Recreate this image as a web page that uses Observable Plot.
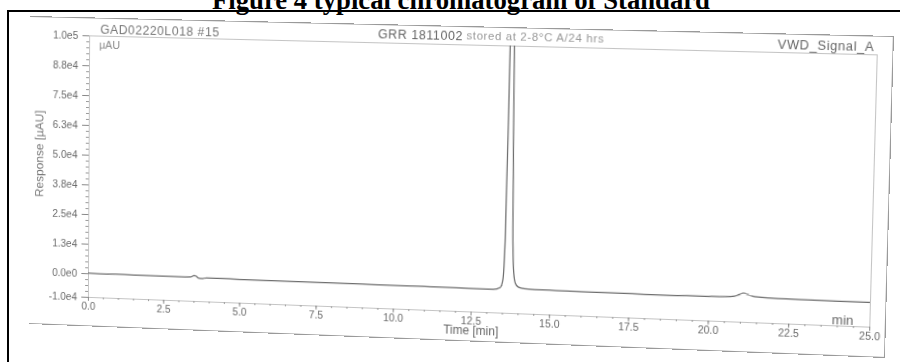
<!DOCTYPE html>
<html><head><meta charset="utf-8">
<script src="https://cdn.jsdelivr.net/npm/d3@7"></script>
<script src="https://cdn.jsdelivr.net/npm/@observablehq/plot@0.6"></script>
<style>
html,body{margin:0;padding:0;background:#fff;}
body{position:relative;width:900px;height:362px;overflow:hidden;font-family:"Liberation Sans",Arial,sans-serif;}
#title{position:absolute;left:0;top:-13px;width:922px;text-align:center;font:bold 26.7px/1 "Liberation Serif","Times New Roman",serif;color:#000;white-space:nowrap;}
#page{position:absolute;left:7px;top:9.5px;width:900px;height:360px;border-top:2px solid #000;border-left:2px solid #000;}
#chart{position:absolute;left:0;top:0;width:865px;height:310px;transform-origin:0 0;border-top:1px solid #9a9a9a;border-right:1px solid #9a9a9a;border-bottom:1px solid #9a9a9a;}
#chart svg{display:block;}
#chart .wide text{letter-spacing:0.6px;}
</style></head>
<body>
<div id="title">Figure 4 typical chromatogram of Standard</div>
<div id="page"></div>
<div id="chart"></div>
<script>
// ---- data ----
const times = [0.0, 0.6, 1.2, 1.8, 2.4, 3.0, 3.4, 3.5, 3.57, 3.65, 3.75, 3.9, 4.3, 5.0, 6.0, 7.0, 8.0, 9.0, 10.0, 11.0, 12.0, 12.8, 13.2, 13.42, 13.5, 13.55, 13.59, 13.63, 13.67, 13.71, 13.75, 13.79, 13.84, 13.9, 14.0, 14.18, 14.55, 15.2, 16.0, 17.0, 18.0, 19.0, 20.0, 20.5, 20.8, 20.95, 21.08, 21.2, 21.35, 21.55, 21.9, 22.4, 23.1, 24.0, 25.0];
const response = [300, 200, 250, 150, 200, 150, 300, 900, 600, -200, -300, 100, 50, 0, -50, 0, -100, -100, -150, -100, -200, -250, -300, 600, 4000, 20000, 70000, 140000, 175000, 150000, 80000, 25000, 7000, 2500, 1000, 500, 300, 200, 100, 50, 0, 0, 100, 250, 600, 1300, 1900, 1500, 900, 550, 350, 250, 150, 100, 100];
const yTicks = [100000, 87500, 75000, 62500, 50000, 37500, 25000, 12500, 0, -10000];
const yTickLabels = ["1.0e5", "8.8e4", "7.5e4", "6.3e4", "5.0e4", "3.8e4", "2.5e4", "1.3e4", "0.0e0", "-1.0e4"];
const xTicks = [0, 2.5, 5, 7.5, 10, 12.5, 15, 17.5, 20, 22.5, 25];
const xTickLabels = ["0.0", "2.5", "5.0", "7.5", "10.0", "12.5", "15.0", "17.5", "20.0", "22.5", "25.0"];
const headerLeft = "GAD02220L018 #15";
const headerCenterA = "GRR 1811002";
const headerCenterB = "stored at 2-8°C A/24 hrs";
const headerRight = "VWD_Signal_A";
const yUnit = "µAU";
const yTitle = "Response [µAU]";
const xTitle = "Time [min]";
const xUnit = "min";

const data = times.map((t, i) => ({t, r: response[i]}));
const yLab = new Map(yTicks.map((d, i) => [d, yTickLabels[i]]));
const xLab = new Map(xTicks.map((d, i) => [d, xTickLabels[i]]));
const yMinor = d3.range(-10000, 100001, 2500);
const xMinor = d3.range(0, 25.001, 0.5);

const plot = Plot.plot({
  width: 865, height: 310,
  marginLeft: 62, marginRight: 15, marginTop: 17, marginBottom: 29,
  x: {domain: [0, 25]},
  y: {domain: [-10000, 100000]},
  style: {fontFamily: "'Liberation Sans', Arial, sans-serif", fontSize: "10.5px", color: "#6a6a6a", background: "transparent", overflow: "visible"},
  marks: [
    Plot.frame({stroke: "#c4c4c4"}),
    Plot.axisY(yMinor, {tickSize: 3, tickFormat: () => "", label: null, stroke: "#999"}),
    Plot.axisY(yTicks, {tickSize: 7, tickPadding: 5, tickFormat: d => yLab.get(d), label: null, stroke: "#888", line: true}),
    Plot.axisX(xMinor, {tickSize: 2, tickFormat: () => "", label: null, stroke: "#999"}),
    Plot.axisX(xTicks, {tickSize: 4, tickPadding: 1, tickFormat: d => xLab.get(d), label: null, stroke: "#888", line: true}),
    Plot.line(data, {x: "t", y: "r", stroke: "#6e6e6e", strokeWidth: 1.25, curve: "monotone-x", clip: true}),
    Plot.text([headerLeft], {frameAnchor: "top-left", dx: 11, dy: -7, textAnchor: "start", lineAnchor: "middle", fontSize: 12.5, fill: "#777", className: "wide"}),
    Plot.text([headerCenterA], {frameAnchor: "top", dx: -98, dy: -9, textAnchor: "start", lineAnchor: "middle", fontSize: 12.5, fill: "#666", className: "wide"}),
    Plot.text([headerCenterB], {frameAnchor: "top", dx: -9, dy: -9, textAnchor: "start", lineAnchor: "middle", fontSize: 11.5, fill: "#9a9a9a", className: "wide"}),
    Plot.text([headerRight], {frameAnchor: "top-right", dx: -3, dy: -8, textAnchor: "end", lineAnchor: "middle", fontSize: 12.5, fill: "#666", className: "wide"}),
    Plot.text([yUnit], {frameAnchor: "top-left", dx: 10, dy: 9, textAnchor: "start", lineAnchor: "middle", fontSize: 11, fill: "#888"}),
    Plot.text([yTitle], {frameAnchor: "left", dx: -52, dy: -12, rotate: -90, textAnchor: "middle", lineAnchor: "middle", fontSize: 12, fill: "#777"}),
    Plot.text([xTitle], {frameAnchor: "bottom", dx: 0, dy: 19, textAnchor: "middle", lineAnchor: "middle", fontSize: 12, fill: "#666"}),
    Plot.text([xUnit], {frameAnchor: "bottom-right", dx: -16, dy: -6, textAnchor: "end", lineAnchor: "middle", fontSize: 13, fill: "#666"})
  ]
});
document.getElementById("chart").appendChild(plot);

// perspective of the scanned page: map the chart box onto the tilted quad seen in the scan
function solve(A, b) {
  const n = b.length;
  const M = A.map((row, i) => row.concat([b[i]]));
  for (let c = 0; c < n; c++) {
    let p = c;
    for (let r = c + 1; r < n; r++) if (Math.abs(M[r][c]) > Math.abs(M[p][c])) p = r;
    [M[c], M[p]] = [M[p], M[c]];
    for (let r = 0; r < n; r++) {
      if (r === c) continue;
      const f = M[r][c] / M[c][c];
      for (let k = c; k <= n; k++) M[r][k] -= f * M[c][k];
    }
  }
  return M.map((row, i) => row[n] / row[i]);
}
function homography(src, dst) {
  const A = [], b = [];
  for (let i = 0; i < 4; i++) {
    const [x, y] = src[i], [X, Y] = dst[i];
    A.push([x, y, 1, 0, 0, 0, -x * X, -y * X]); b.push(X);
    A.push([0, 0, 0, x, y, 1, -x * Y, -y * Y]); b.push(Y);
  }
  const h = solve(A, b);
  return `matrix3d(${h[0]},${h[3]},0,${h[6]},${h[1]},${h[4]},0,${h[7]},0,0,1,0,${h[2]},${h[5]},0,1)`;
}
const W = 866, H = 312;
document.getElementById("chart").style.transform = homography(
  [[0, 0], [W, 0], [W, H], [0, H]],
  [[30, 16], [894, 36], [885, 358], [29, 324]]
);
</script>
</body></html>
